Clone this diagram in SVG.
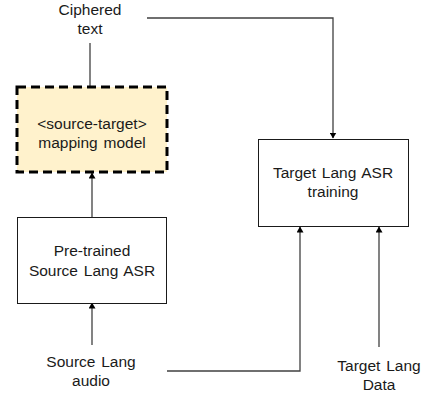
<svg xmlns="http://www.w3.org/2000/svg" width="427" height="399" viewBox="0 0 427 399">
<style>
text{font-family:"Liberation Sans",Arial,sans-serif;font-size:15.5px;fill:#1a1a1a;text-anchor:middle;word-spacing:1.5px}
.box{fill:#fff;stroke:#1a1a1a;stroke-width:1}
.dash{fill:#fff2cc;stroke:#000;stroke-width:3;stroke-dasharray:9 5}
.c{fill:none;stroke:#404040;stroke-width:1.3}
</style>
<defs>
<marker id="ah" markerWidth="6" markerHeight="7" refX="5.5" refY="3.5" orient="auto" markerUnits="userSpaceOnUse">
<path d="M0,0 L6,3.5 L0,7 Z" fill="#000"/>
</marker>
</defs>
<rect width="427" height="399" fill="#fff"/>
<g id="connectors">
<path class="c" d="M147,18 H333 V138" marker-end="url(#ah)"/>
<path class="c" d="M90,43 V87"/>
<path class="c" d="M92,217 V173" marker-end="url(#ah)"/>
<path class="c" d="M92,345 V303" marker-end="url(#ah)"/>
<path class="c" d="M167,371 H300 V227" marker-end="url(#ah)"/>
<path class="c" d="M379,347 V227" marker-end="url(#ah)"/>
</g>
<g id="ciphered">
<text x="90" y="15">Ciphered</text>
<text x="90" y="34">text</text>
</g>
<g id="mapping">
<rect class="dash" x="17" y="87" width="150" height="85"/>
<text x="92" y="129">&lt;source-target&gt;</text>
<text x="92" y="148">mapping model</text>
</g>
<g id="pretrained">
<rect class="box" x="17.5" y="217.5" width="149" height="86"/>
<text x="92" y="256">Pre-trained</text>
<text x="92" y="276">Source Lang ASR</text>
</g>
<g id="target">
<rect class="box" x="258.5" y="139.5" width="150" height="87"/>
<text x="333" y="178">Target Lang ASR</text>
<text x="333" y="197">training</text>
</g>
<g id="source-audio">
<text x="91" y="367">Source Lang</text>
<text x="91" y="386">audio</text>
</g>
<g id="target-data">
<text x="379" y="371">Target Lang</text>
<text x="379" y="390">Data</text>
</g>
</svg>
